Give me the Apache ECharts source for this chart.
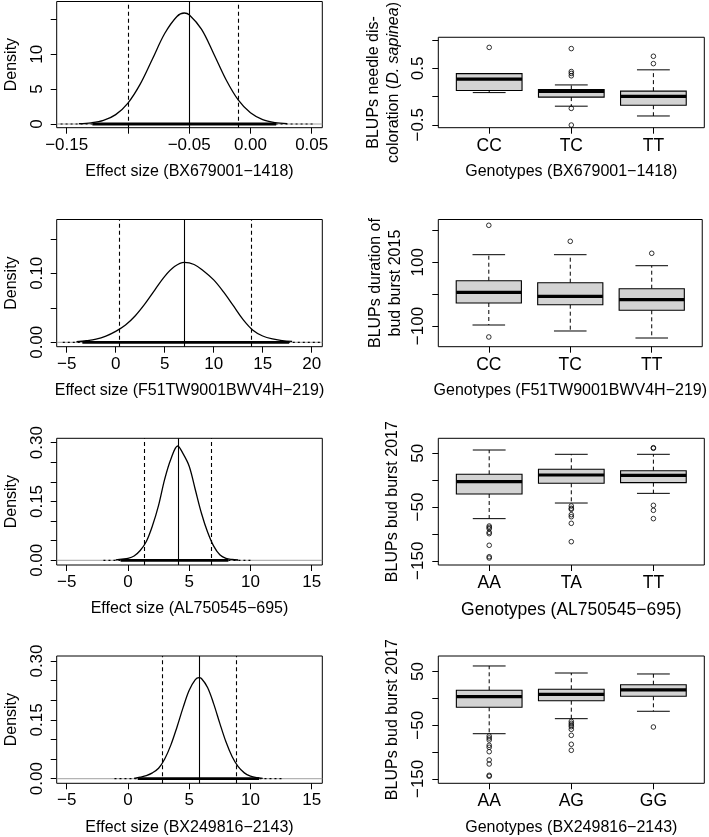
<!DOCTYPE html>
<html><head><meta charset="utf-8">
<script src="https://cdn.jsdelivr.net/npm/echarts@6/dist/echarts.min.js"></script>
<style>html,body{margin:0;padding:0;background:#fff}#c{width:709px;height:837px}</style>
</head><body><div id="c"></div><script>
// ---------- Left column: posterior densities of effect sizes ----------
const effectMarkers = ['BX679001\u22121418', 'F51TW9001BWV4H\u2212219', 'AL750545\u2212695', 'BX249816\u22122143'];

const densX1 = [-0.14,-0.13,-0.12,-0.11,-0.10,-0.09,-0.08,-0.07,-0.06,-0.054,-0.05,-0.04,-0.03,-0.02,-0.01,0.00,0.01,0.02,0.03];
const densY1 = [0.05,0.17,0.51,1.34,3.0,5.71,9.31,12.96,15.41,15.9,15.65,13.58,10.07,6.38,3.45,1.60,0.63,0.21,0.06];

const densX2 = [-4,-3,-2,-1,0,1,2,3,4,5,6,7,8,9,10,11,12,13,14,15,16,17,18];
const densY2 = [0.0008,0.0022,0.0045,0.009,0.0158,0.025,0.0385,0.056,0.076,0.0956,0.1098,0.1159,0.1128,0.103,0.0904,0.073,0.053,0.0329,0.0175,0.0091,0.0048,0.0025,0.0012];

const densX3 = [-1.0,-0.5,0,0.5,1.0,1.5,2.0,2.5,3.0,3.5,4.06,4.5,5.0,5.5,6.0,6.5,7.0,7.5,8.0,8.5,9.0];
const densY3 = [0.001,0.003,0.005,0.011,0.025,0.048,0.088,0.14,0.207,0.258,0.2916,0.272,0.24,0.18,0.12,0.072,0.036,0.014,0.005,0.002,0.0008];

const densX4 = [0.5,1.0,1.5,2.0,2.5,3.0,3.5,4.0,4.5,5.0,5.5,5.8,6.0,6.5,7.0,7.5,8.0,8.5,9.0,9.5,10.0,10.5,11.0];
const densY4 = [0.0007,0.004,0.008,0.015,0.0267,0.0504,0.0856,0.1313,0.1811,0.2254,0.2527,0.2575,0.2554,0.2325,0.1908,0.1411,0.094,0.0565,0.0306,0.0149,0.0066,0.0026,0.0009];

const effectMean = [-0.054, 7.0, 4.1, 5.8];
const ciLower = [-0.1027, 0.37, 1.34, 2.8];
const ciUpper = [-0.0063, 13.78, 6.84, 8.88];
const sampleCore = [[-0.129, 0.021], [-3.4, 17.7], [-0.6, 8.2], [0.8, 10.7]];
const sampleTail = [[-0.155, 0.051], [-5.4, 21.0], [-2.0, 10.0], [-1.1, 12.6]];

const xTicksL = [[-0.15,-0.10,-0.05,0,0.05], [-5,0,5,10,15,20], [-5,0,5,10,15], [-5,0,5,10,15]];
const xLabelsL = [[-0.15,-0.05,0,0.05], [-5,0,5,10,15,20], [-5,0,5,10,15], [-5,0,5,10,15]];
const yTicksL = [[0,5,10,15], [0,0.05,0.10,0.15], [0,0.05,0.10,0.15,0.20,0.25,0.30], [0,0.05,0.10,0.15,0.20,0.25,0.30]];
const yLabelsL = [[0,5,10], [0,0.10], [0,0.15,0.30], [0,0.15,0.30]];

// ---------- Right column: BLUP boxplots by genotype ----------
const genoMarkers = ['BX679001\u22121418', 'F51TW9001BWV4H\u2212219', 'AL750545\u2212695', 'BX249816\u22122143'];
const genotypes = [['CC','TC','TT'], ['CC','TC','TT'], ['AA','TA','TT'], ['AA','AG','GG']];

const whiskerLow = [[0.071,-0.17,-0.344], [-96.9,-115.7,-137.7], [-71.6,-42.5,-24.5], [-65.8,-37.8,-24]];
const quart1 = [[0.109,-0.009,-0.153], [-27.8,-33.1,-50.7], [-25.7,-5.8,-4.6], [-16.6,-4.3,3.9]];
const medians = [[0.309,0.093,0.004], [5.8,-6.8,-17.4], [-2.7,9.7,9.1], [3.2,7.6,15.7]];
const quart3 = [[0.407,0.127,0.097], [42.2,35.9,17.1], [11,20.3,17.7], [15.1,17,25.5]];
const whiskerHigh = [[0.407,0.207,0.475], [123.9,123.9,89.3], [56.2,48.2,48.2], [60.4,47.3,45.5]];
const outliers = [
  [[0.873], [0.852,0.445,0.411,0.369,-0.209,-0.505], [0.716,0.585]],
  [[216.2,-134.5], [165.9], [128.3]],
  [[-85.3,-87.8,-90.3,-97,-99.6,-121.2,-142.5,-144.9], [-48,-52.3,-54.2,-64.2,-68,-80.3,-114.5], [59.4,60.5,-46.8,-56.1,-71.6]],
  [[-70,-73.8,-77.5,-87.4,-91.1,-99.3,-114.8,-122.2,-143.3,-145.1], [-42.7,-46.4,-49.6,-52.7,-57.6,-68.8,-85.5,-96.7], [-53.3]]
];
const yTicksR = [[-0.5,0,0.5,1.0], [-100,0,100,200], [-150,-100,-50,0,50], [-150,-100,-50,0,50]];
const yLabelsR = [[-0.5,0.5], [-100,100], [-150,-50,50], [-150,-50,50]];
const yTitlesR = ['BLUPs needle dis-\ncoloration ({it|D. sapinea})', 'BLUPs duration of\nbud burst 2015', 'BLUPs bud burst 2017', 'BLUPs bud burst 2017'];

// ---------- layout ----------
const FONT = "'Liberation Sans', Arial, Helvetica, sans-serif";
const fmt = (v, d) => (v < 0 ? '\u2212' : '') + Math.abs(v).toFixed(d);
const rowTop = [1.5, 219.5, 438.3, 656];
const rowH = [126.2, 127.2, 126.7, 127.3];
const xRangeL = [[-0.15816, 0.05866], [-6.02, 21.08], [-5.816, 15.866], [-5.816, 15.866]];
const yRangeL = [[-0.53, 17.55], [-0.0064, 0.178], [-0.012, 0.3112], [-0.0117, 0.3128]];
const xDecL = [2, 0, 0, 0], yDecL = [0, 2, 2, 2];
const yRangeR = [[-0.552, 1.053], [-165.0, 234.4], [-157.9, 78.0], [-158.2, 79.0]];
const yDecR = [1, 0, 0, 0];
const yNameGapR = [35, 33, 36, 36];

const txt = {color: '#000', fontFamily: FONT};
const grids = [], xAxes = [], yAxes = [], series = [];
const densX = [densX1, densX2, densX3, densX4], densY = [densY1, densY2, densY3, densY4];

function tickCfg(vals) { return {show: true, inside: false, length: 6, customValues: vals, lineStyle: {color: '#000', width: 1}}; }
const noLine = {show: false, onZero: false};

for (let i = 0; i < 4; i++) {
  grids.push({left: 56.7, top: rowTop[i], width: 265.6, height: rowH[i], show: true, borderColor: '#000', borderWidth: 1, backgroundColor: 'rgba(0,0,0,0)'});
  xAxes.push({gridIndex: i, type: 'value', position: 'bottom', min: xRangeL[i][0], max: xRangeL[i][1],
    axisLine: noLine, splitLine: {show: false}, axisTick: tickCfg(xTicksL[i]),
    axisLabel: Object.assign({customValues: xLabelsL[i], formatter: (v) => fmt(v, xDecL[i]), margin: 9, fontSize: 17}, txt),
    name: 'Effect size (' + effectMarkers[i] + ')', nameLocation: 'middle', nameGap: 36,
    nameTextStyle: Object.assign({fontSize: 16}, txt)});
  yAxes.push({gridIndex: i, type: 'value', position: 'left', min: yRangeL[i][0], max: yRangeL[i][1],
    axisLine: noLine, splitLine: {show: false}, axisTick: tickCfg(yTicksL[i]),
    axisLabel: Object.assign({customValues: yLabelsL[i], formatter: (v) => fmt(v, yDecL[i]), margin: 11, fontSize: 17, rotate: 90}, txt),
    name: 'Density', nameLocation: 'middle', nameGap: 37,
    nameTextStyle: Object.assign({fontSize: 16}, txt)});
  // zero line (grey) across the panel
  series.push({type: 'line', xAxisIndex: i, yAxisIndex: i, silent: true, symbol: 'none',
    data: [[xRangeL[i][0], 0], [xRangeL[i][1], 0]], lineStyle: {color: '#a0a0a0', width: 1}, z: 1});
  // posterior samples along zero
  series.push({type: 'line', xAxisIndex: i, yAxisIndex: i, silent: true, symbol: 'none',
    data: [[sampleTail[i][0], 0], [sampleTail[i][1], 0]], lineStyle: {color: '#000', width: 1.2, type: [2, 3]}, z: 2});
  series.push({type: 'line', xAxisIndex: i, yAxisIndex: i, silent: true, symbol: 'none',
    data: [[sampleCore[i][0], 0], [sampleCore[i][1], 0]], lineStyle: {color: '#000', width: 2.8}, z: 3});
  // density curve with mean and credible interval lines
  series.push({type: 'line', xAxisIndex: i, yAxisIndex: i, silent: true, symbol: 'none', smooth: 0.35,
    data: densX[i].map((x, k) => [x, densY[i][k]]), lineStyle: {color: '#000', width: 1.3}, z: 4,
    markLine: {silent: true, symbol: ['none', 'none'], label: {show: false}, animation: false,
      lineStyle: {color: '#000', width: 1.1, type: 'solid'},
      data: [{xAxis: effectMean[i]},
             {xAxis: ciLower[i], lineStyle: {type: [4, 3], color: '#000', width: 1.1}},
             {xAxis: ciUpper[i], lineStyle: {type: [4, 3], color: '#000', width: 1.1}}]}});
}

for (let i = 0; i < 4; i++) {
  const g = 4 + i;
  const cats = genotypes[i];
  grids.push({left: 438.3, top: rowTop[i], width: 266, height: rowH[i], show: true, borderColor: '#000', borderWidth: 1, backgroundColor: 'rgba(0,0,0,0)'});
  xAxes.push({gridIndex: g, type: 'value', position: 'bottom', min: 0.38, max: 3.62,
    axisLine: noLine, splitLine: {show: false}, axisTick: tickCfg([1, 2, 3]),
    axisLabel: Object.assign({customValues: [1, 2, 3], formatter: (v) => cats[Math.round(v) - 1], margin: 9, fontSize: 17.5}, txt),
    name: 'Genotypes (' + genoMarkers[i] + ')', nameLocation: 'middle', nameGap: 36,
    nameTextStyle: Object.assign({fontSize: i === 2 ? 17.5 : 16}, txt)});
  yAxes.push({gridIndex: g, type: 'value', position: 'left', min: yRangeR[i][0], max: yRangeR[i][1],
    axisLine: noLine, splitLine: {show: false}, axisTick: tickCfg(yTicksR[i]),
    axisLabel: Object.assign({customValues: yLabelsR[i], formatter: (v) => fmt(v, yDecR[i]), margin: 11, fontSize: 17, rotate: 90}, txt),
    name: yTitlesR[i], nameLocation: 'middle', nameGap: yNameGapR[i],
    nameTextStyle: Object.assign({fontSize: 16, lineHeight: 20,
      rich: {it: {fontStyle: 'italic', fontSize: 16, lineHeight: 20, color: '#000', fontFamily: FONT}}}, txt)});
  series.push({type: 'custom', xAxisIndex: g, yAxisIndex: g, silent: true, z: 3,
    data: cats.map((c, k) => [k + 1, whiskerLow[i][k], quart1[i][k], medians[i][k], quart3[i][k], whiskerHigh[i][k]]),
    encode: {x: 0, y: [1, 2, 3, 4, 5]},
    renderItem: (params, api) => {
      const x = api.value(0);
      const lo = api.value(1), a = api.value(2), m = api.value(3), b = api.value(4), hi = api.value(5);
      const c = (xx, yy) => api.coord([xx, yy]);
      const seg = (p1, p2, style) => ({type: 'line', shape: {x1: p1[0], y1: p1[1], x2: p2[0], y2: p2[1]}, style: Object.assign({stroke: '#000', lineWidth: 1}, style)});
      const tl = c(x - 0.4, b), br = c(x + 0.4, a);
      return {type: 'group', children: [
        seg(c(x, b), c(x, hi), {lineDash: [4, 3]}),
        seg(c(x, a), c(x, lo), {lineDash: [4, 3]}),
        seg(c(x - 0.2, hi), c(x + 0.2, hi), {}),
        seg(c(x - 0.2, lo), c(x + 0.2, lo), {}),
        {type: 'rect', shape: {x: tl[0], y: tl[1], width: br[0] - tl[0], height: br[1] - tl[1]}, style: {fill: '#d3d3d3', stroke: '#000', lineWidth: 1.1}},
        seg(c(x - 0.4, m), c(x + 0.4, m), {lineWidth: 3.2})
      ]};
    }});
  const pts = [];
  outliers[i].forEach((arr, k) => arr.forEach(v => pts.push([k + 1, v])));
  series.push({type: 'scatter', xAxisIndex: g, yAxisIndex: g, silent: true, z: 4, data: pts,
    symbol: 'circle', symbolSize: 4.6, itemStyle: {color: 'rgba(0,0,0,0)', borderColor: '#000', borderWidth: 1}});
}

const chart = echarts.init(document.getElementById('c'), null, {renderer: 'canvas'});
chart.setOption({animation: false, backgroundColor: '#fff', grid: grids, xAxis: xAxes, yAxis: yAxes, series: series});
</script></body></html>
